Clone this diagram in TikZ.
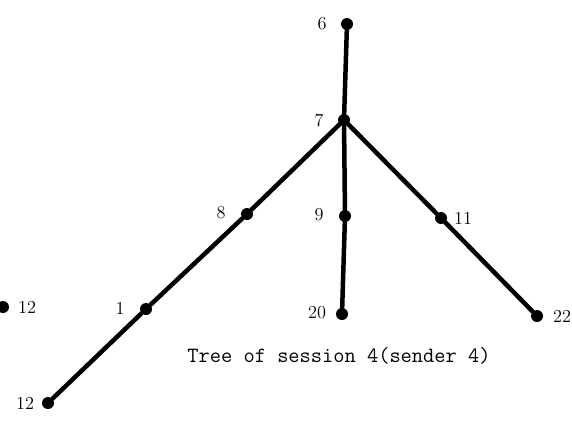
\documentclass[tikz,border=0pt]{standalone}
\usepackage{tikz}
\tikzset{
  hostdot/.style={circle, fill=black, inner sep=0pt, minimum size=0.3cm},
  hostlabel/.style={font=\fontsize{13}{15}\selectfont, inner sep=0pt},
  treelink/.style={line width=3.2pt, draw=black, line cap=round},
  caption/.style={font=\fontsize{15.5}{18}\selectfont\ttfamily, inner sep=0pt},
}

\begin{document}
\begin{tikzpicture}[x=0.025cm, y=-0.025cm]
\useasboundingbox (0,0) rectangle (572,423);
% hosts of the tree
\node[hostdot] (h6) at (347,24) {};
\node[hostdot] (h7) at (344,120) {};
\node[hostdot] (h8) at (247,214) {};
\node[hostdot] (h9) at (345,216) {};
\node[hostdot] (h11) at (441,218) {};
\node[hostdot] (h1) at (146,309) {};
\node[hostdot] (h20) at (342,314) {};
\node[hostdot] (h22) at (537,316) {};
\node[hostdot] (h12b) at (48,403) {};
\node[hostdot] (h12a) at (3,307) {};
% links
\draw[treelink] (h6) -- (h7);
\draw[treelink] (h7) -- (h8);
\draw[treelink] (h8) -- (h1);
\draw[treelink] (h1) -- (h12b);
\draw[treelink] (h7) -- (h9);
\draw[treelink] (h9) -- (h20);
\draw[treelink] (h7) -- (h11);
\draw[treelink] (h11) -- (h22);
% labels
\node[hostlabel] (l6) at (322,24) {6};
\node[hostlabel] (l7) at (319,121) {7};
\node[hostlabel] (l8) at (221,213) {8};
\node[hostlabel] (l9) at (319,215) {9};
\node[hostlabel] (l11) at (463,218) {11};
\node[hostlabel] (l1) at (120,308) {1};
\node[hostlabel] (l20) at (317,313) {20};
\node[hostlabel] (l22) at (562,316) {22};
\node[hostlabel] (l12b) at (25,403) {12};
\node[hostlabel] (l12a) at (27,307) {12};
\node[caption] (cap) at (339,356) {Tree of session 4(sender 4)};
\end{tikzpicture}
\end{document}
